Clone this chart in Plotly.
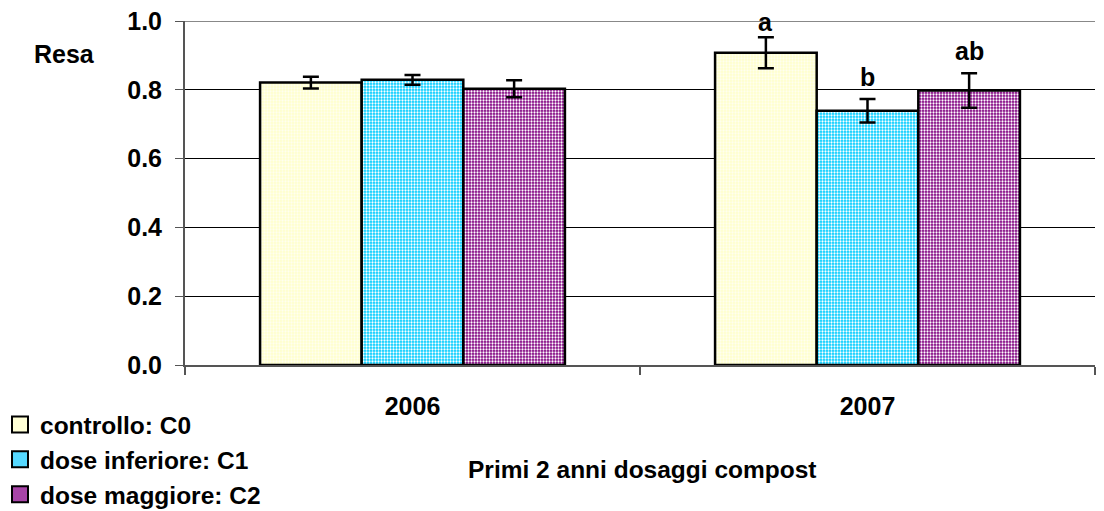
import plotly.graph_objects as go

# Resa per anno e trattamento (media ± errore standard)
years = ["2006", "2007"]
series_names = ["controllo: C0", "dose inferiore: C1", "dose maggiore: C2"]
resa_c0 = [0.821, 0.908]
resa_c1 = [0.829, 0.739]
resa_c2 = [0.803, 0.798]
err_c0 = [0.017, 0.045]
err_c1 = [0.014, 0.034]
err_c2 = [0.025, 0.050]

# Lettere di significatività (2007)
sig_year = "2007"
sig_letters = ["a", "b", "ab"]

FONT = "Liberation Sans, Arial, sans-serif"
FS = 25

W, H = 1104, 511
ML, MR, MT, MB = 185, 9, 21, 146
PW, PH = W - ML - MR, H - MT - MB
BARGAP = 0.33


def px_to_paper(px, py):
    return (px - ML) / PW, (H - MB - py) / PH


colors_bg = ["#FFFFCC", "#00CCFF", "#800080"]
colors_fg = ["#FFFFF0", "#FFFFFF", "#FFFFFF"]
legend_colors = ["#FFFFD6", "#55D8FF", "#A845A8"]

values = [resa_c0, resa_c1, resa_c2]
errors = [err_c0, err_c1, err_c2]

fig = go.Figure()
for name, vals, errs, bg, fg in zip(series_names, values, errors, colors_bg, colors_fg):
    fig.add_trace(go.Bar(
        x=years, y=vals, name=name, showlegend=False,
        marker=dict(
            color=bg,
            line=dict(color="black", width=2.5),
            pattern=dict(shape=".", bgcolor=bg, fgcolor=fg, size=3, solidity=0.45, fillmode="replace"),
        ),
        error_y=dict(type="data", array=errs, visible=True, color="black", thickness=2.5, width=8),
    ))

# Voci di legenda con simbolo quadrato
for name, col in zip(series_names, legend_colors):
    fig.add_trace(go.Scatter(
        x=[years[0]], y=[None], mode="markers", name=name,
        marker=dict(symbol="square", size=16, color=col, line=dict(color="black", width=2)),
    ))

# Lettere sopra le barre del 2007
yi = years.index(sig_year)
bar_w = (1 - BARGAP) / len(series_names)
for i, (letter, vals, errs) in enumerate(zip(sig_letters, values, errors)):
    fig.add_annotation(
        x=yi + (i - 1) * bar_w, y=vals[yi] + errs[yi], xref="x", yref="y",
        text=f"<b>{letter}</b>", showarrow=False,
        yanchor="bottom", yshift=-1 if i == 0 else 6,
        font=dict(family=FONT, size=FS, color="black"),
    )

# Etichetta asse Y
rx, ry = px_to_paper(32, 54)
fig.add_annotation(
    x=rx, y=ry, xref="paper", yref="paper", text="<b>Resa</b>", showarrow=False,
    xanchor="left", yanchor="middle",
    font=dict(family=FONT, size=FS, color="black"),
)

# Titolo asse X
tx, ty = px_to_paper(642, 469)
fig.add_annotation(
    x=tx, y=ty, xref="paper", yref="paper",
    text="<b>Primi 2 anni dosaggi compost</b>", showarrow=False,
    xanchor="center", yanchor="middle",
    font=dict(family=FONT, size=24.5, color="black"),
)

# Linea superiore del riquadro
fig.add_shape(type="line", xref="paper", yref="y", x0=0, x1=1, y0=1.0, y1=1.0,
              line=dict(color="#888888", width=2), layer="above")

fig.update_layout(
    width=W, height=H,
    margin=dict(l=ML, r=MR, t=MT, b=MB, autoexpand=False),
    paper_bgcolor="white", plot_bgcolor="white",
    barmode="group", bargap=BARGAP, bargroupgap=0,
    font=dict(family=FONT, size=FS, color="black"),
    legend=dict(
        xref="container", yref="container", x=0, y=1 - 402 / H,
        xanchor="left", yanchor="top",
        font=dict(family=FONT, size=24.5, color="black", weight="bold"),
        bgcolor="rgba(0,0,0,0)", itemwidth=30, tracegroupgap=0,
    ),
    xaxis=dict(
        type="category", categoryorder="array", categoryarray=years,
        range=[-0.5, len(years) - 0.5],
        showgrid=False, showline=True, linecolor="#555555", linewidth=2,
        ticks="outside", tickson="boundaries", ticklen=8, tickcolor="#555555", tickwidth=2,
        tickfont=dict(family=FONT, size=FS, color="black", weight="bold"),
        ticklabelstandoff=18, tickangle=0,
    ),
    yaxis=dict(
        range=[0, 1.0], tickvals=[0, 0.2, 0.4, 0.6, 0.8, 1.0],
        ticktext=["0.0", "0.2", "0.4", "0.6", "0.8", "1.0"],
        showgrid=True, gridcolor="black", gridwidth=1,
        showline=True, linecolor="#555555", linewidth=2,
        ticks="outside", ticklen=8, tickcolor="#555555", tickwidth=1,
        tickfont=dict(family=FONT, size=FS, color="black", weight="bold"),
        ticklabelstandoff=8, zeroline=False,
    ),
)

fig.write_html("out.html")
